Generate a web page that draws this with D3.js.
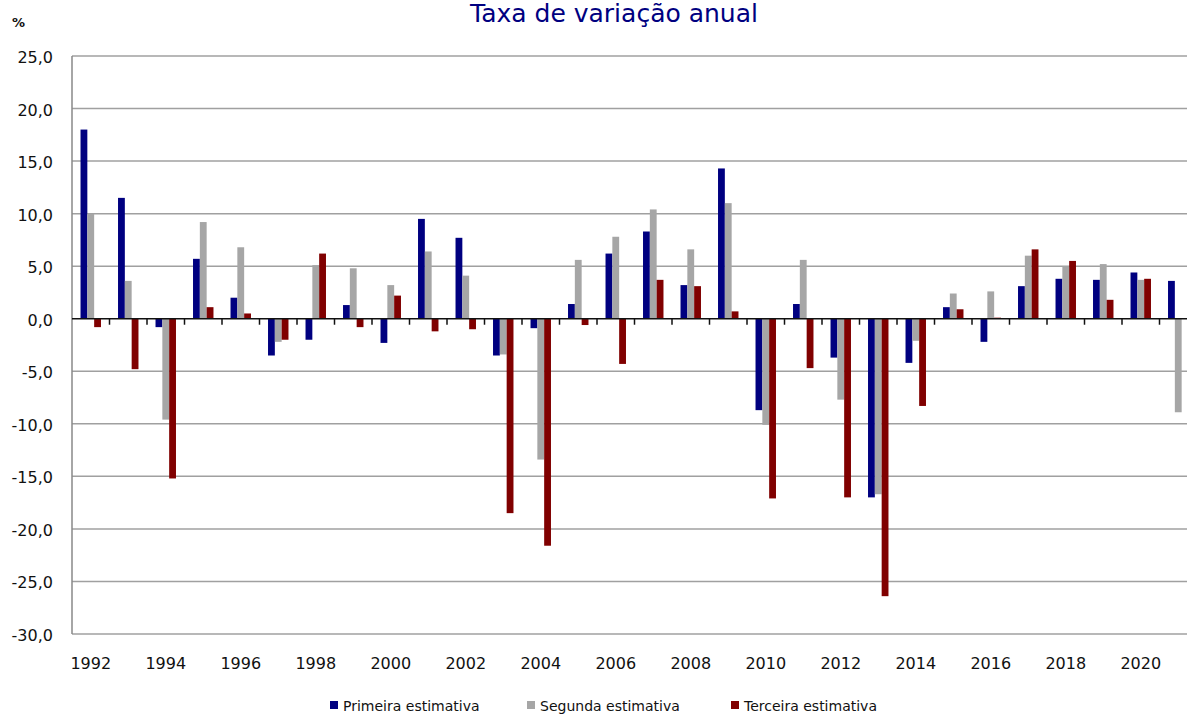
<!DOCTYPE html>
<html>
<head>
<meta charset="utf-8">
<script src="https://cdn.jsdelivr.net/npm/d3@7"></script>
<style>
  body { margin: 0; background: #fff; }
  svg { display: block; font-family: "DejaVu Sans", Verdana, sans-serif; }
</style>
</head>
<body>
<svg width="1187" height="715"></svg>
<script>
// data
let years = d3.range(1992, 2022);
let seriesNames = ["Primeira estimativa", "Segunda estimativa", "Terceira estimativa"];
let primeira = [18.0, 11.5, -0.8, 5.7, 2.0, -3.5, -2.0, 1.3, -2.3, 9.5, 7.7, -3.5, -0.9, 1.4, 6.2, 8.3, 3.2, 14.3, -8.7, 1.4, -3.7, -17.0, -4.2, 1.1, -2.2, 3.1, 3.8, 3.7, 4.4, 3.6];
let segunda = [10.0, 3.6, -9.6, 9.2, 6.8, -2.2, 5.1, 4.8, 3.2, 6.4, 4.1, -3.4, -13.4, 5.6, 7.8, 10.4, 6.6, 11.0, -10.1, 5.6, -7.7, -16.7, -2.1, 2.4, 2.6, 6.0, 5.0, 5.2, 3.7, -8.9];
let terceira = [-0.8, -4.8, -15.2, 1.1, 0.5, -2.0, 6.2, -0.8, 2.2, -1.2, -1.0, -18.5, -21.6, -0.6, -4.3, 3.7, 3.1, 0.7, -17.1, -4.7, -17.0, -26.4, -8.3, 0.9, 0.1, 6.6, 5.5, 1.8, 3.8, null];
let yTicks = [25, 20, 15, 10, 5, 0, -5, -10, -15, -20, -25, -30];
let colors = ["#000080", "#a6a6a6", "#800000"];

let svg = d3.select("svg");
let plotL = 72, plotR = 1197, plotT = 56, plotB = 634;

let x0 = d3.scaleBand().domain(years).range([plotL, plotR]);
let x1 = d3.scaleBand().domain([0, 1, 2]).range([0, x0.bandwidth()]).paddingOuter(1.25);
let y = d3.scaleLinear().domain([-30, 25]).range([plotB, plotT]);
let fmt = v => d3.format(".1f")(v).replace(".", ",").replace("−", "-");

// gridlines
let ggrid = svg.append("g").attr("class", "grid");
ggrid.selectAll("line")
    .data(yTicks.filter(t => t !== 0))
  .enter().append("line")
    .attr("x1", plotL).attr("x2", plotR)
    .attr("y1", d => y(d)).attr("y2", d => y(d))
    .attr("stroke", "#a0a0a0")
    .attr("stroke-width", 1.5);
ggrid.append("line")
    .attr("x1", plotL).attr("x2", plotL)
    .attr("y1", plotT).attr("y2", plotB)
    .attr("stroke", "#888")
    .attr("stroke-width", 1.5);

// y labels
svg.append("g").selectAll("text")
    .data(yTicks)
  .enter().append("text")
    .attr("x", 53)
    .attr("y", d => y(d) + 7)
    .attr("text-anchor", "end")
    .attr("font-size", 16)
    .attr("fill", "#111")
    .text(fmt);

// bars
let series = [primeira, segunda, terceira];
let gbars = svg.append("g").attr("class", "bars");
series.forEach((vals, s) => {
  gbars.append("g").selectAll("rect")
      .data(years.map((yr, i) => ({ yr: yr, v: vals[i] })).filter(d => d.v !== null))
    .enter().append("rect")
      .attr("x", d => x0(d.yr) + x1(s))
      .attr("width", x1.bandwidth())
      .attr("y", d => y(Math.max(0, d.v)))
      .attr("height", d => Math.abs(y(d.v) - y(0)))
      .attr("fill", colors[s]);
});

// zero axis + ticks
let gaxis = svg.append("g").attr("class", "axis");
gaxis.append("line")
    .attr("x1", plotL).attr("x2", plotR)
    .attr("y1", y(0)).attr("y2", y(0))
    .attr("stroke", "#111")
    .attr("stroke-width", 1.5);
gaxis.selectAll("line.tick")
    .data(years.slice(1))
  .enter().append("line")
    .attr("class", "tick")
    .attr("x1", d => x0(d)).attr("x2", d => x0(d))
    .attr("y1", y(0)).attr("y2", y(0) + 6)
    .attr("stroke", "#111")
    .attr("stroke-width", 1.5);

// x labels every second year
svg.append("g").selectAll("text")
    .data(years.filter(d => d % 2 === 0))
  .enter().append("text")
    .attr("x", d => x0(d) + x0.bandwidth() / 2)
    .attr("y", 669)
    .attr("text-anchor", "middle")
    .attr("font-size", 16)
    .attr("fill", "#111")
    .text(d => d);

// title and unit
svg.append("text")
    .attr("x", 614).attr("y", 22)
    .attr("text-anchor", "middle")
    .attr("font-size", 25)
    .attr("fill", "#000080")
    .text("Taxa de variação anual");
svg.append("text")
    .attr("x", 12).attr("y", 27)
    .attr("font-size", 13)
    .attr("font-weight", "bold")
    .attr("fill", "#111")
    .text("%");

// legend
let legX = [330, 527, 731];
let gleg = svg.append("g").attr("class", "legend");
seriesNames.forEach((name, i) => {
  gleg.append("rect")
      .attr("x", legX[i]).attr("y", 701)
      .attr("width", 8).attr("height", 8)
      .attr("fill", colors[i]);
  gleg.append("text")
      .attr("x", legX[i] + 13).attr("y", 711)
      .attr("font-size", 14)
      .attr("fill", "#111")
      .text(name);
});
</script>
</body>
</html>
